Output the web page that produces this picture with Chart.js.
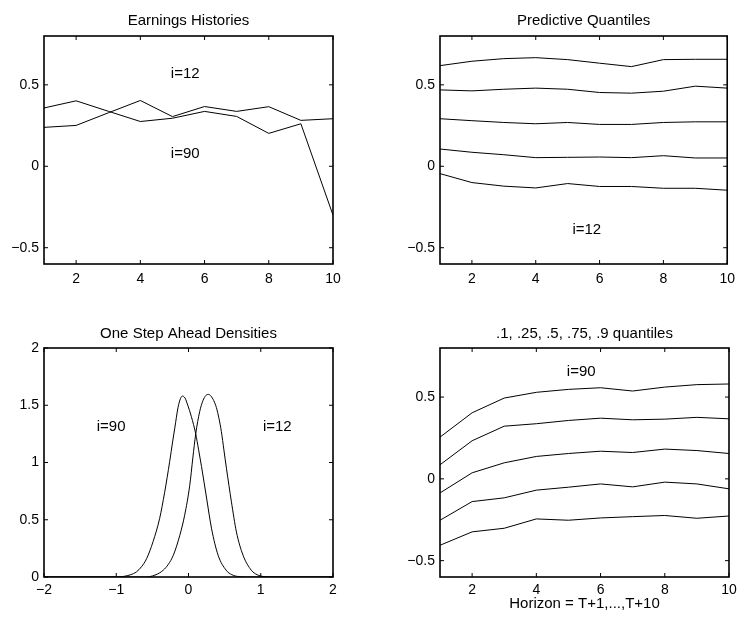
<!DOCTYPE html>
<html>
<head>
<meta charset="utf-8">
<script src="https://cdn.jsdelivr.net/npm/chart.js@4.4.1/dist/chart.umd.min.js"></script>
<style>
    html, body { margin: 0; padding: 0; background: #fff; }
    #wrap { position: relative; width: 742px; height: 618px; overflow: hidden; }
    canvas { position: absolute; }
</style>
</head>
<body>
<div id="wrap">
    <canvas id="earnChart" width="371" height="300" style="left:0;top:0"></canvas>
    <canvas id="quant12Chart" width="371" height="300" style="left:371px;top:0"></canvas>
    <canvas id="densChart" width="371" height="318" style="left:0;top:300px"></canvas>
    <canvas id="quant90Chart" width="371" height="318" style="left:371px;top:300px"></canvas>
</div>
<script>
// horizon / period index
const horizon = [1, 2, 3, 4, 5, 6, 7, 8, 9, 10];

// earnings histories of the two firms
const earn12 = [0.239, 0.251, 0.328, 0.404, 0.305, 0.367, 0.337, 0.366, 0.282, 0.292];
const earn90 = [0.358, 0.402, 0.338, 0.275, 0.295, 0.337, 0.306, 0.202, 0.261, -0.30];

// predictive quantiles, firm i=12 (.1, .25, .5, .75, .9)
const q10_12 = [-0.045, -0.100, -0.122, -0.133, -0.106, -0.124, -0.124, -0.135, -0.135, -0.147];
const q25_12 = [0.106, 0.086, 0.071, 0.053, 0.055, 0.057, 0.053, 0.065, 0.051, 0.051];
const q50_12 = [0.292, 0.280, 0.269, 0.261, 0.269, 0.257, 0.257, 0.269, 0.273, 0.273];
const q75_12 = [0.469, 0.463, 0.473, 0.480, 0.473, 0.453, 0.449, 0.461, 0.492, 0.480];
const q90_12 = [0.618, 0.645, 0.661, 0.667, 0.655, 0.633, 0.612, 0.655, 0.657, 0.657];

// predictive quantiles, firm i=90
const q10_90 = [-0.406, -0.324, -0.302, -0.245, -0.253, -0.239, -0.231, -0.224, -0.241, -0.227];
const q25_90 = [-0.253, -0.139, -0.116, -0.069, -0.051, -0.031, -0.049, -0.020, -0.031, -0.061];
const q50_90 = [-0.086, 0.037, 0.098, 0.137, 0.155, 0.169, 0.161, 0.182, 0.173, 0.155];
const q75_90 = [0.086, 0.233, 0.322, 0.337, 0.357, 0.371, 0.361, 0.365, 0.376, 0.367];
const q90_90 = [0.255, 0.404, 0.494, 0.529, 0.547, 0.557, 0.537, 0.561, 0.576, 0.580];

// one step ahead densities
const densX90 = [-2, -1.0, -0.9, -0.8, -0.72, -0.65, -0.58, -0.49, -0.40, -0.33, -0.26, -0.22, -0.19, -0.145, -0.11, -0.085,
    -0.05, -0.01, 0.04, 0.10, 0.14, 0.18, 0.25, 0.32, 0.41, 0.52, 0.60, 0.70, 0.80, 2];
const densY90 = [0, 0, 0.005, 0.02, 0.045, 0.09, 0.16, 0.31, 0.51, 0.74, 1.01, 1.18, 1.30, 1.48, 1.56, 1.58,
    1.565, 1.50, 1.40, 1.25, 1.11, 0.965, 0.69, 0.42, 0.19, 0.06, 0.02, 0.003, 0, 0];
const densX12 = [-2, -0.6, -0.54, -0.45, -0.35, -0.28, -0.21, -0.12, -0.053, 0.017, 0.06, 0.10, 0.155, 0.20, 0.24, 0.275,
    0.31, 0.35, 0.386, 0.42, 0.455, 0.49, 0.525, 0.594, 0.663, 0.755, 0.87, 0.95, 1.05, 1.15, 2];
const densY12 = [0, 0, 0.003, 0.02, 0.059, 0.11, 0.19, 0.365, 0.54, 0.80, 1.04, 1.25, 1.445, 1.54, 1.585, 1.595,
    1.58, 1.54, 1.48, 1.39, 1.27, 1.11, 0.95, 0.657, 0.394, 0.19, 0.059, 0.02, 0.003, 0, 0];

// tick values
const horizonTicks = [2, 4, 6, 8, 10];
const valueTicks = [-0.5, 0, 0.5];
const densXTicks = [-2, -1, 0, 1, 2];
const densYTicks = [0, 0.5, 1, 1.5, 2];

const FONT = "'Liberation Sans', Arial, Helvetica, sans-serif";

Chart.defaults.font.family = FONT;
Chart.defaults.color = "#000";
Chart.defaults.animation = false;

function fmtTick(v) {
    return v < 0 ? "\u2212" + Math.abs(v) : String(v);
}

function toPoints(xs, ys) {
    return xs.map((x, i) => ({ x: x, y: ys[i] }));
}

function lineSet(xs, ys, smooth) {
    return {
        data: toPoints(xs, ys),
        borderColor: "#000",
        borderWidth: 1,
        pointRadius: 0,
        fill: false,
        tension: 0,
        cubicInterpolationMode: smooth ? "monotone" : "default",
    };
}

// box around the axes with inward ticks on all four sides
const boxAxes = {
    id: "boxAxes",
    afterDatasetsDraw(chart) {
        const { ctx, chartArea: a, scales } = chart;
        const tl = 4;
        ctx.save();
        ctx.strokeStyle = "#000";
        ctx.lineWidth = 1;
        ctx.beginPath();
        scales.x.ticks.forEach((t) => {
            const px = scales.x.getPixelForValue(t.value);
            ctx.moveTo(px, a.bottom);
            ctx.lineTo(px, a.bottom - tl);
            ctx.moveTo(px, a.top);
            ctx.lineTo(px, a.top + tl);
        });
        scales.y.ticks.forEach((t) => {
            const py = scales.y.getPixelForValue(t.value);
            ctx.moveTo(a.left, py);
            ctx.lineTo(a.left + tl, py);
            ctx.moveTo(a.right, py);
            ctx.lineTo(a.right - tl, py);
        });
        ctx.stroke();
        ctx.lineWidth = 1.6;
        ctx.strokeRect(a.left, a.top, a.right - a.left, a.bottom - a.top);
        ctx.restore();
    },
};

// text labels placed in data coordinates
const notes = {
    id: "notes",
    afterDraw(chart, args, opts) {
        const { ctx, scales } = chart;
        ctx.save();
        ctx.fillStyle = "#000";
        ctx.font = "15px " + FONT;
        ctx.textAlign = "left";
        ctx.textBaseline = "middle";
        (opts.items || []).forEach((n) => {
            ctx.fillText(n.text, scales.x.getPixelForValue(n.x), scales.y.getPixelForValue(n.y));
        });
        ctx.restore();
    },
};

function createPanel(canvasID, cfg) {
    const el = document.getElementById(canvasID);
    return new Chart(el, {
        type: "line",
        data: { datasets: cfg.datasets },
        plugins: [boxAxes, notes],
        options: {
            responsive: false,
            devicePixelRatio: 1,
            layout: { padding: { left: 0, right: cfg.padRight, top: 0, bottom: 0 } },
            scales: {
                x: {
                    type: "linear",
                    min: cfg.xMin,
                    max: cfg.xMax,
                    grid: { display: false, drawTicks: false },
                    border: { display: false },
                    afterBuildTicks: (axis) => {
                        axis.ticks = cfg.xTicks.map((v) => ({ value: v }));
                    },
                    afterFit: (axis) => {
                        axis.height = cfg.xHeight;
                    },
                    ticks: {
                        font: { size: 14 },
                        padding: cfg.xPad,
                        maxRotation: 0,
                        autoSkip: false,
                        callback: (v) => fmtTick(v),
                    },
                    title: {
                        display: !!cfg.xTitle,
                        text: cfg.xTitle || "",
                        font: { size: 15 },
                        padding: { top: 0, bottom: 5 },
                    },
                },
                y: {
                    type: "linear",
                    min: cfg.yMin,
                    max: cfg.yMax,
                    grid: { display: false, drawTicks: false },
                    border: { display: false },
                    afterBuildTicks: (axis) => {
                        axis.ticks = cfg.yTicks.map((v) => ({ value: v }));
                    },
                    afterFit: (axis) => {
                        axis.width = cfg.yWidth;
                    },
                    ticks: {
                        font: { size: 14 },
                        padding: 5,
                        autoSkip: false,
                        callback: (v) => fmtTick(v),
                    },
                },
            },
            plugins: {
                legend: { display: false },
                tooltip: { enabled: false },
                title: {
                    display: true,
                    text: cfg.title,
                    fullSize: false,
                    font: { size: 15, weight: "normal" },
                    padding: { top: cfg.titleTop, bottom: cfg.titleBottom },
                },
                notes: { items: cfg.notes },
            },
        },
    });
}

createPanel("earnChart", {
    title: "Earnings Histories",
    datasets: [lineSet(horizon, earn12), lineSet(horizon, earn90)],
    xMin: 1, xMax: 10, xTicks: horizonTicks,
    yMin: -0.6, yMax: 0.8, yTicks: valueTicks,
    yWidth: 44, padRight: 38, xHeight: 36, xPad: 7, titleTop: 12, titleBottom: 6,
    notes: [
        { text: "i=12", x: 4.95, y: 0.57 },
        { text: "i=90", x: 4.95, y: 0.075 },
    ],
});

createPanel("quant12Chart", {
    title: "Predictive Quantiles",
    datasets: [q10_12, q25_12, q50_12, q75_12, q90_12].map((s) => lineSet(horizon, s)),
    xMin: 1, xMax: 10, xTicks: horizonTicks,
    yMin: -0.6, yMax: 0.8, yTicks: valueTicks,
    yWidth: 69, padRight: 13, xHeight: 36, xPad: 7, titleTop: 12, titleBottom: 6,
    notes: [{ text: "i=12", x: 5.15, y: -0.39 }],
});

createPanel("densChart", {
    title: "One Step Ahead Densities",
    datasets: [lineSet(densX90, densY90, true), lineSet(densX12, densY12, true)],
    xMin: -2, xMax: 2, xTicks: densXTicks,
    yMin: 0, yMax: 2, yTicks: densYTicks,
    yWidth: 44, padRight: 38, xHeight: 41, xPad: 5, titleTop: 25, titleBottom: 5,
    notes: [
        { text: "i=90", x: -1.27, y: 1.31 },
        { text: "i=12", x: 1.03, y: 1.31 },
    ],
});

createPanel("quant90Chart", {
    title: ".1, .25, .5, .75, .9 quantiles",
    datasets: [q10_90, q25_90, q50_90, q75_90, q90_90].map((s) => lineSet(horizon, s)),
    xMin: 1, xMax: 10, xTicks: horizonTicks,
    yMin: -0.6, yMax: 0.8, yTicks: valueTicks,
    yWidth: 69, padRight: 13, xHeight: 41, xPad: 5, titleTop: 25, titleBottom: 5,
    xTitle: "Horizon = T+1,...,T+10",
    notes: [{ text: "i=90", x: 4.95, y: 0.655 }],
});
</script>
</body>
</html>
